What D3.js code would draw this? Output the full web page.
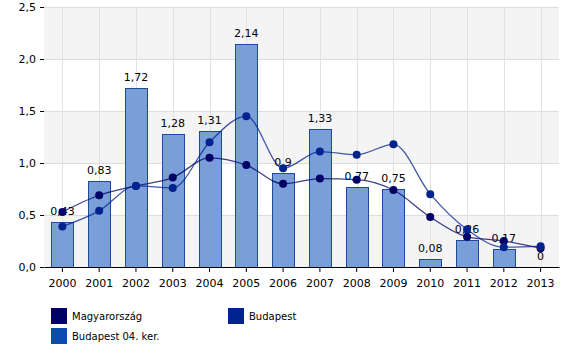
<!DOCTYPE html>
<html><head><meta charset="utf-8">
<script src="https://cdn.jsdelivr.net/npm/d3@7"></script>
<style>body{margin:0;background:#fff}svg{display:block;font-family:"DejaVu Sans",Verdana,sans-serif}</style>
</head><body><svg id="c" width="580" height="357"></svg>
<script>
const years = ["2000","2001","2002","2003","2004","2005","2006","2007","2008","2009","2010","2011","2012","2013"];
const district = [0.43,0.83,1.72,1.28,1.31,2.14,0.9,1.33,0.77,0.75,0.08,0.26,0.17,0];
const hungary = [0.53,0.69,0.78,0.86,1.05,0.98,0.80,0.85,0.84,0.74,0.48,0.29,0.25,0.18];
const budapest = [0.39,0.54,0.78,0.76,1.20,1.45,0.95,1.11,1.08,1.18,0.70,0.36,0.19,0.20];
const yTicks = [0,0.5,1,1.5,2,2.5];
const seriesNames = ["Magyarország","Budapest","Budapest 04. ker."];
const colors = ["#000066","#00238f","#0a4cb0"];

const svg = d3.select("#c");
const L=44, R=559, T=7, B=267;
const x = d3.scaleBand().domain(years).range([L,R]).paddingInner(0.4).paddingOuter(0.2);
const xc = d => x(d)+x.bandwidth()/2;
const y = d3.scaleLinear().domain([0,2.5]).range([B,T]);
const fmt = v => String(v).replace(".",",");

// bands
for(let i=0;i<yTicks.length-1;i+=2){
  svg.append("rect").attr("x",L).attr("width",R-L)
    .attr("y",y(yTicks[i+1])).attr("height",y(yTicks[i])-y(yTicks[i+1])).attr("fill","#f4f4f4");
}
// horizontal grid
svg.append("g").selectAll("line").data(yTicks.slice(1)).join("line")
  .attr("x1",L).attr("x2",R).attr("y1",d=>y(d)+0.5).attr("y2",d=>y(d)+0.5)
  .attr("stroke","#dddddd");
// vertical grid
svg.append("g").selectAll("line").data(years).join("line")
  .attr("x1",d=>Math.round(xc(d))+0.5).attr("x2",d=>Math.round(xc(d))+0.5).attr("y1",T).attr("y2",B)
  .attr("stroke","#e2e2e2");

// bars
svg.append("g").selectAll("rect").data(district).join("rect")
  .attr("x",(d,i)=>Math.round(x(years[i]))+0.5).attr("width",Math.round(x.bandwidth()))
  .attr("y",d=>Math.round(y(d))+0.5).attr("height",d=>B-Math.round(y(d)))
  .attr("fill","#7a9fd8").attr("stroke","#1b4a9e").attr("stroke-width",1);

// labels
svg.append("g").selectAll("text").data(district).join("text")
  .attr("x",(d,i)=>xc(years[i])).attr("y",d=>y(d)-7)
  .attr("text-anchor","middle").attr("font-size",11).attr("fill","#000").text(fmt);

// axes
const ya = d3.axisLeft(y).tickValues(yTicks).tickSize(4).tickFormat(d=>d3.format(".1f")(d).replace(".",","));
const gy = svg.append("g").attr("transform",`translate(${L},0)`).call(ya);
gy.select(".domain").remove();
gy.selectAll("text").attr("font-size",11).attr("fill","#000").attr("x",-8).attr("font-family","DejaVu Sans");
gy.selectAll("line").attr("stroke","#000");

const xa = d3.axisBottom(x).tickSizeInner(5).tickSizeOuter(0);
const gx = svg.append("g").attr("transform",`translate(0,${B})`).call(xa);
gx.select(".domain").attr("stroke","#000");
gx.selectAll("text").attr("font-size",11).attr("fill","#000").attr("dy","1.1em").attr("font-family","DejaVu Sans");
gx.selectAll("line").attr("stroke","#000");

// lines
const line = d3.line().x((d,i)=>xc(years[i])).y(d=>y(d)).curve(d3.curveMonotoneX);
[[hungary,colors[0]],[budapest,colors[1]]].forEach(([data,c])=>{
  svg.append("path").datum(data).attr("d",line).attr("fill","none")
    .attr("stroke",c).attr("stroke-opacity",0.75).attr("stroke-width",1.3);
});
[[hungary,colors[0]],[budapest,colors[1]]].forEach(([data,c])=>{
  svg.append("g").selectAll("circle").data(data).join("circle")
    .attr("cx",(d,i)=>xc(years[i])).attr("cy",d=>y(d)).attr("r",4).attr("fill",c);
});

// legend
const leg = [
  {name:seriesNames[0],c:colors[0],x:51,y:308},
  {name:seriesNames[1],c:colors[1],x:228,y:308},
  {name:seriesNames[2],c:colors[2],x:51,y:328}
];
const lg = svg.append("g").selectAll("g").data(leg).join("g").attr("transform",d=>`translate(${d.x},${d.y})`);
lg.append("rect").attr("width",16).attr("height",16).attr("fill",d=>d.c);
lg.append("text").attr("x",21).attr("y",12).attr("font-size",10).attr("fill","#000").text(d=>d.name);
</script></body></html>
